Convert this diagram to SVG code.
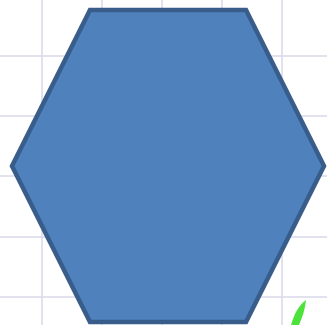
<svg xmlns="http://www.w3.org/2000/svg" width="327" height="325" viewBox="0 0 327 325">
<defs>
<style>
.grid line{stroke:#d8d8ea;stroke-width:1.5}
.hex{fill:#4f81bd;stroke:#385d8a;stroke-width:4.5;stroke-linejoin:miter}
</style>
</defs>
<rect width="327" height="325" fill="#ffffff"/>
<g class="grid">
<line x1="42" y1="0" x2="42" y2="325"/>
<line x1="102" y1="0" x2="102" y2="325"/>
<line x1="162" y1="0" x2="162" y2="325"/>
<line x1="222" y1="0" x2="222" y2="325"/>
<line x1="282" y1="0" x2="282" y2="325"/>
<line x1="0" y1="56" x2="327" y2="56"/>
<line x1="0" y1="116" x2="327" y2="116"/>
<line x1="0" y1="176" x2="327" y2="176"/>
<line x1="0" y1="237" x2="327" y2="237"/>
<line x1="0" y1="297" x2="327" y2="297"/>
</g>
<path d="M291,325 C294,314 299,305 306,300 C305,310 302,318 299,325 Z" fill="#4ce23a"/>
<g id="hexagon">
<polygon class="hex" points="90,10 246,10 324,166 246,322 90,322 12,166"/>
</g>
</svg>
